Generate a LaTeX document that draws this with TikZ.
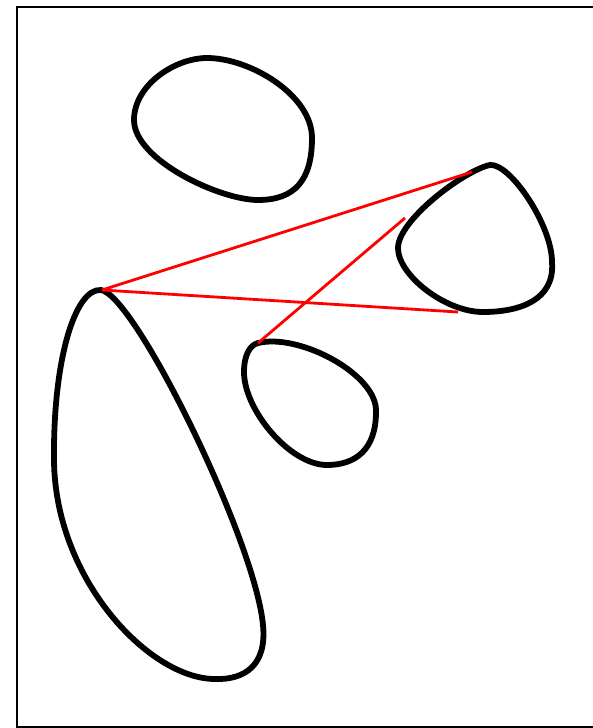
\documentclass[tikz,border=0pt]{standalone}
\begin{document}
\begin{tikzpicture}[x=1pt,y=-1pt,
  blob/.style={line width=5.8pt,black,line join=round},
  link/.style={line width=2.8pt,red},
  frame/.style={line width=2pt,black}]
\useasboundingbox (0,0) rectangle (592,728);
\draw[frame] (16.5,6.5) rectangle (640,726.5);
% top blob
\draw[blob] (134,120) .. controls (134,85) and (175,58) .. (207,58)
  .. controls (250,58) and (312,95) .. (312,138)
  .. controls (312,180) and (295,200) .. (258,200)
  .. controls (220,200) and (134,160) .. cycle;
% right blob
\draw[blob] (490,165) .. controls (510,163) and (552,225) .. (552,262)
  .. controls (555,300) and (520,312) .. (483,312)
  .. controls (445,312) and (398,275) .. (398,248)
  .. controls (398,220) and (465,170) .. cycle;
% middle blob
\draw[blob] (258,343) .. controls (300,333) and (378,375) .. (376,412)
  .. controls (376,450) and (355,465) .. (327,465)
  .. controls (290,465) and (244,410) .. (244,372)
  .. controls (244,355) and (250,345) .. cycle;
% big blob
\draw[blob] (101,290) .. controls (135,295) and (255,540) .. (263,625)
  .. controls (267,665) and (245,680) .. (215,679)
  .. controls (150,679) and (55,580) .. (54,460)
  .. controls (53,360) and (75,288) .. cycle;
\coordinate (apex) at (102,290);
\coordinate (rtop) at (472,172);
\coordinate (rbot) at (458,312);
\coordinate (mtop) at (258,343);
\coordinate (rleft) at (405,218);
\draw[link] (apex) -- (rtop);
\draw[link] (apex) -- (rbot);
\draw[link] (mtop) -- (rleft);
\end{tikzpicture}
\end{document}
